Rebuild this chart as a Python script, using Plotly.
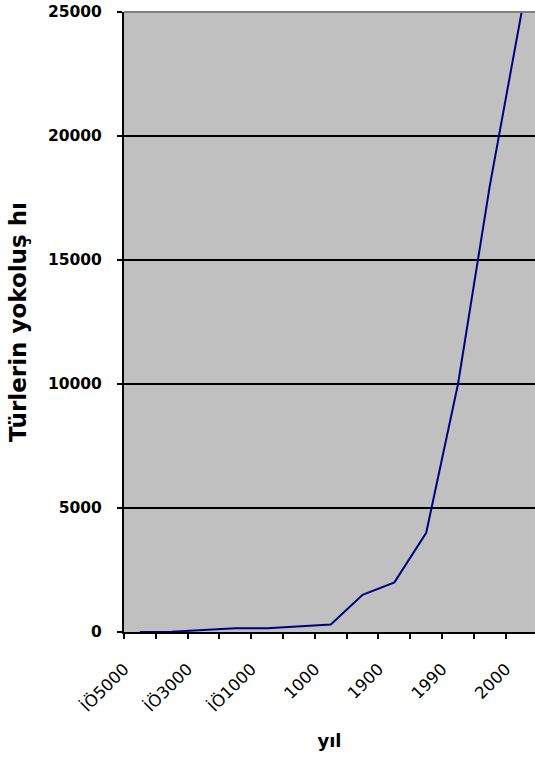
import plotly.graph_objects as go

# Data
point_index = list(range(13))
extinction = [0, 10, 80, 150, 150, 230, 300, 1500, 2000, 4000, 10000, 18000, 25000]

# Category-axis labels as they appear (at every other category boundary)
tick_positions = [-0.5, 0.5, 1.5, 2.5, 3.5, 4.5, 5.5, 6.5, 7.5, 8.5, 9.5, 10.5, 11.5]
tick_labels = ["İÖ5000", "", "İÖ3000", "", "İÖ1000", "", "1000", "", "1900", "", "1990", "", "2000"]

y_ticks = [0, 5000, 10000, 15000, 20000, 25000]

fig = go.Figure()
fig.add_trace(go.Scatter(
    x=point_index, y=extinction, mode="lines",
    line=dict(color="#000080", width=2),
    showlegend=False, hoverinfo="skip",
))

fig.update_layout(
    width=535, height=767,
    margin=dict(l=124, r=0, t=12, b=135),
    paper_bgcolor="white",
    plot_bgcolor="#C0C0C0",
    font=dict(family="DejaVu Sans", color="black"),
    xaxis=dict(
        range=[-0.5, 12.42],
        tickmode="array", tickvals=tick_positions, ticktext=tick_labels,
        tickangle=-45,
        ticks="outside", ticklen=5, tickwidth=2, tickcolor="black",
        showline=True, linecolor="black", linewidth=2,
        showgrid=False, zeroline=False,
        tickfont=dict(family="DejaVu Sans", size=16.5, color="black"),
        ticklabelstandoff=14,
        title=dict(text="<b>yıl</b>", font=dict(family="DejaVu Sans", size=18, color="black"), standoff=20),
    ),
    yaxis=dict(
        range=[0, 25000],
        tickmode="array", tickvals=y_ticks, ticktext=[str(v) for v in y_ticks],
        ticks="outside", ticklen=5, tickwidth=2, tickcolor="black",
        showline=True, linecolor="black", linewidth=2,
        showgrid=True, gridcolor="black", gridwidth=1.5,
        zeroline=False,
        tickfont=dict(family="DejaVu Sans", size=15.5, color="black", weight="bold"),
        ticklabelstandoff=12,
        title=dict(text="<b>Türlerin yokoluş hı</b>", font=dict(family="DejaVu Sans", size=23, color="black"), standoff=15),
    ),
)

fig.add_shape(type="line", xref="paper", yref="paper", x0=0, x1=1, y0=1, y1=1,
              line=dict(color="#808080", width=2), layer="above")

fig.write_html("out.html", config={"displayModeBar": False})

# remove the default page margin so the figure sits at the window's top-left corner
with open("out.html", encoding="utf-8") as f:
    html = f.read()
html = html.replace("<head>", "<head><style>html,body{margin:0;padding:0;overflow:hidden;}</style>", 1)
with open("out.html", "w", encoding="utf-8") as f:
    f.write(html)
